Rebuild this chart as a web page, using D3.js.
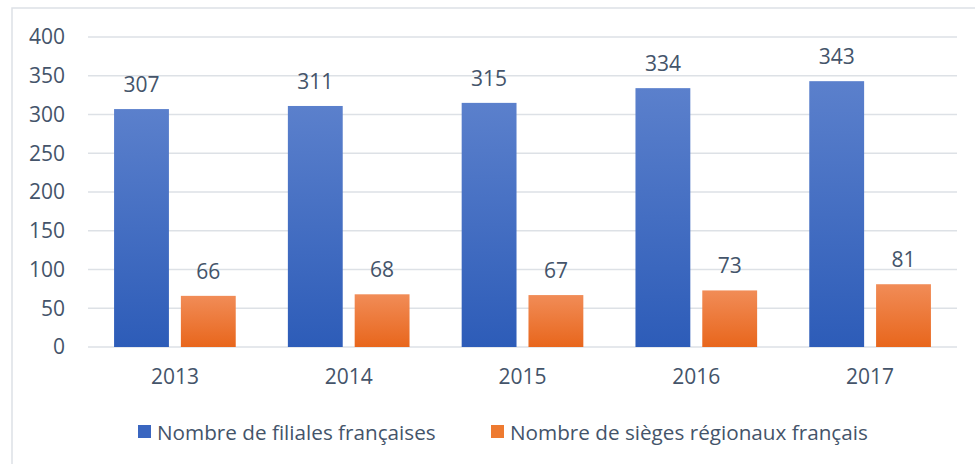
<!DOCTYPE html>
<html><head><meta charset="utf-8">
<script src="https://cdn.jsdelivr.net/npm/d3@7"></script>
<style>body{margin:0;background:#fff}svg{display:block}text{font-family:"Open Sans",sans-serif;fill:#44546a}</style>
</head><body>
<svg id="c" width="975" height="464"></svg>
<script>
const years = ["2013","2014","2015","2016","2017"];
const filiales = [307,311,315,334,343];
const sieges = [66,68,67,73,81];
const seriesNames = ["Nombre de filiales françaises","Nombre de sièges régionaux français"];
const yTicks = [0,50,100,150,200,250,300,350,400];

const svg = d3.select("#c");
const defs = svg.append("defs");
function grad(id, top, bottom){
  const g = defs.append("linearGradient").attr("id",id).attr("x1",0).attr("y1",0).attr("x2",0).attr("y2",1);
  g.append("stop").attr("offset","0%").attr("stop-color",top);
  g.append("stop").attr("offset","100%").attr("stop-color",bottom);
}
grad("gb","#5b80cc","#2d5cb8");
grad("go","#f18c57","#e8661c");
const fills = ["url(#gb)","url(#go)"];
const legendCols = ["#3a66c0","#ee7a30"];

// outer border
svg.append("rect").attr("x",12).attr("y",8).attr("width",990).attr("height",480)
  .attr("fill","none").attr("stroke","#dde1e6").attr("stroke-width",1.5);

const x0 = d3.scaleBand().domain(years).range([88,957]).paddingInner(0.3).paddingOuter(0.15);
const x1 = d3.scaleBand().domain([0,1]).range([0,x0.bandwidth()]).paddingInner(0.179);
const y = d3.scaleLinear().domain([0,400]).range([347,37]);

// gridlines
svg.append("g").selectAll("line").data(yTicks).join("line")
  .attr("x1",88).attr("x2",957).attr("y1",d=>y(d)).attr("y2",d=>y(d))
  .attr("stroke","#dde1e6").attr("stroke-width",1.5);

// y labels
svg.append("g").selectAll("text").data(yTicks).join("text")
  .attr("x",65).attr("y",d=>y(d)).attr("dy","0.35em").attr("text-anchor","end")
  .attr("font-size",21).text(d=>d);

const data = years.map((yr,i)=>({yr, vals:[filiales[i],sieges[i]]}));
const groups = svg.append("g").selectAll("g").data(data).join("g")
  .attr("transform",d=>`translate(${x0(d.yr)},0)`);
groups.selectAll("rect").data(d=>d.vals.map((v,k)=>({v,k}))).join("rect")
  .attr("x",d=>x1(d.k)).attr("width",x1.bandwidth())
  .attr("y",d=>y(d.v)).attr("height",d=>y(0)-y(d.v)).attr("fill",d=>fills[d.k]);
groups.selectAll("text.v").data(d=>d.vals.map((v,k)=>({v,k}))).join("text").attr("class","v")
  .attr("x",d=>x1(d.k)+x1.bandwidth()/2).attr("y",d=>y(d.v)-17)
  .attr("text-anchor","middle").attr("font-size",21).text(d=>d.v);

// x labels
svg.append("g").selectAll("text").data(years).join("text")
  .attr("x",d=>x0(d)+x0.bandwidth()/2).attr("y",384).attr("text-anchor","middle")
  .attr("font-size",21).text(d=>d);

// legend
const lx = [138,491];
seriesNames.forEach((n,i)=>{
  svg.append("rect").attr("x",lx[i]).attr("y",425).attr("width",13).attr("height",13).attr("fill",legendCols[i]);
  svg.append("text").attr("x",lx[i]+19).attr("y",439.5).attr("font-size",20.7).text(n);
});
</script>
</body></html>
